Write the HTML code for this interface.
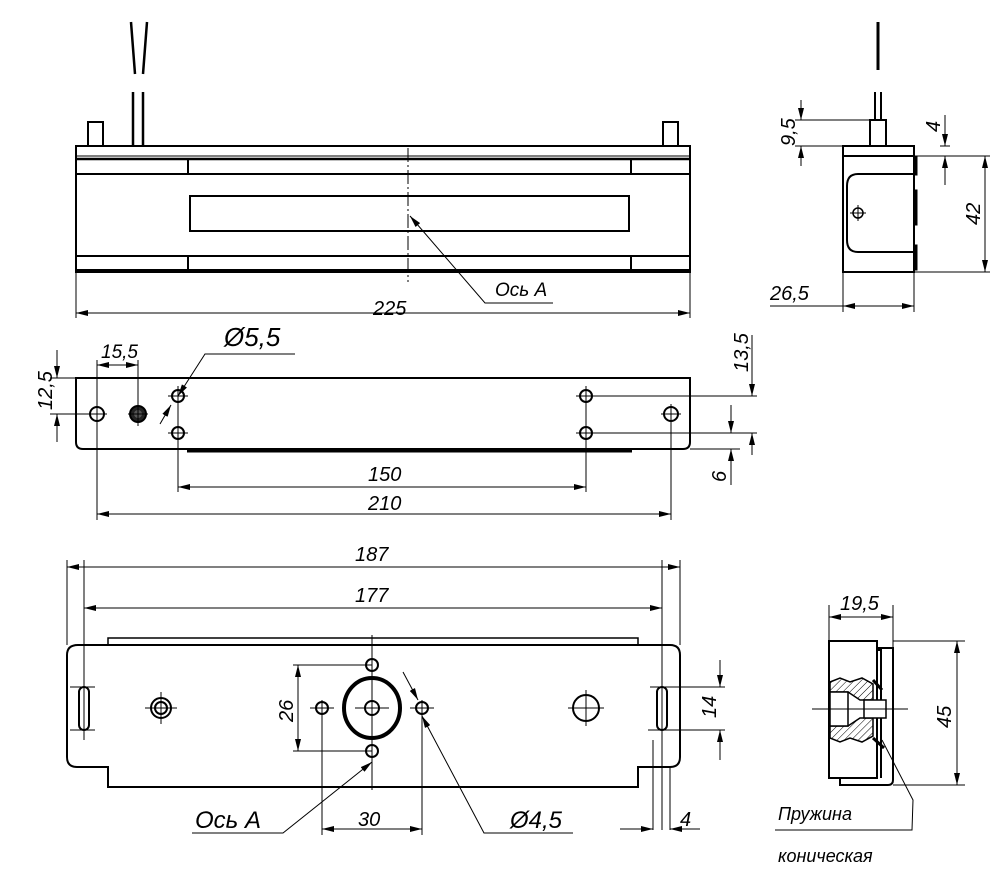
<!DOCTYPE html>
<html><head><meta charset="utf-8"><style>
body{margin:0;background:#fff}
svg{display:block}
text{font-family:"Liberation Sans",sans-serif;font-style:italic;fill:#000}
</style></head><body>
<svg width="1000" height="875" viewBox="0 0 1000 875" xmlns="http://www.w3.org/2000/svg">
<defs>
<marker id="a" viewBox="0 0 12 6" refX="12" refY="3" markerWidth="12" markerHeight="6" orient="auto-start-reverse" markerUnits="userSpaceOnUse"><path d="M0,0L12,3L0,6Z"/></marker>
<pattern id="h" width="5" height="5" patternUnits="userSpaceOnUse" patternTransform="rotate(45)"><line x1="0" y1="0" x2="0" y2="5" stroke="#000" stroke-width="1"/></pattern>
</defs>
<g fill="none" stroke="#000">
<!-- TOP VIEW -->
<g stroke-width="2">
<rect x="76" y="146" width="614" height="126"/>
<line x1="76" y1="159" x2="690" y2="159" stroke-width="2.5"/>
<line x1="76" y1="174" x2="690" y2="174"/>
<line x1="76" y1="256" x2="690" y2="256"/>
<line x1="76" y1="270" x2="690" y2="270"/>
<line x1="188" y1="159" x2="188" y2="174"/><line x1="631" y1="159" x2="631" y2="174"/>
<line x1="188" y1="256" x2="188" y2="270"/><line x1="631" y1="256" x2="631" y2="270"/>
<rect x="190" y="196" width="439" height="35"/>
<path d="M88,146V122H103V146M663,146V122H678V146"/>
<path d="M133,146V92M143,146V92M131,22L135,74M147,22L143,74" stroke-width="2.5"/>
</g>
<line x1="76" y1="156" x2="690" y2="156" stroke-width="1"/>
<line x1="408" y1="148" x2="408" y2="282" stroke-width="1" stroke-dasharray="14,3,2,3"/>
<path d="M410,216L485,303H553" stroke-width="1" marker-start="url(#a)"/>
<path d="M76,272V318M690,272V318" stroke-width="1"/>
<line x1="76" y1="313" x2="690" y2="313" stroke-width="1" marker-start="url(#a)" marker-end="url(#a)"/>

<!-- SIDE VIEW TOP RIGHT -->
<g stroke-width="2">
<rect x="843" y="146" width="71" height="126"/>
<line x1="843" y1="156" x2="914" y2="156"/>
<path d="M914,174H858Q847,174 847,186V240Q847,252 858,252H914"/>
<path d="M870,146V120H886V146"/>
<path d="M875,120V92M881,120V92"/>
</g>
<line x1="878" y1="22" x2="878" y2="70" stroke-width="3"/>
<path d="M914,157h3v18h-3M914,190h3v35h-3M914,245h3v25h-3" fill="#000" stroke-width="1"/>
<circle cx="858" cy="213" r="5" stroke-width="1.5"/>
<path d="M850,213h16M858,205v16" stroke-width="1"/>
<path d="M795,120H870M795,146H843M914,156H990M914,272H990M843,272V312M914,272V312M940,146H950" stroke-width="1"/>
<line x1="801" y1="100" x2="801" y2="120" stroke-width="1" marker-end="url(#a)"/>
<line x1="801" y1="166" x2="801" y2="146" stroke-width="1" marker-end="url(#a)"/>
<line x1="945" y1="115" x2="945" y2="146" stroke-width="1" marker-end="url(#a)"/>
<line x1="945" y1="185" x2="945" y2="156" stroke-width="1" marker-end="url(#a)"/>
<line x1="985" y1="156" x2="985" y2="272" stroke-width="1" marker-start="url(#a)" marker-end="url(#a)"/>
<line x1="770" y1="306" x2="843" y2="306" stroke-width="1"/>
<line x1="843" y1="306" x2="914" y2="306" stroke-width="1" marker-start="url(#a)" marker-end="url(#a)"/>

<!-- SECOND VIEW -->
<path d="M76,378H690V442Q690,449 683,449H83Q76,449 76,442Z" stroke-width="2"/>
<line x1="187" y1="451" x2="632" y2="451" stroke-width="3"/>
<g stroke-width="2">
<circle cx="97" cy="414" r="7"/><circle cx="671" cy="414" r="7"/>
<circle cx="178" cy="396" r="6"/><circle cx="178" cy="433" r="6"/>
<circle cx="586" cy="396" r="6"/><circle cx="586" cy="433" r="6"/>
</g>
<circle cx="138" cy="414" r="8" fill="#222" stroke-width="2"/>
<circle cx="138" cy="414" r="4" fill="#555" stroke="none"/>
<g stroke-width="1">
<path d="M87,414h20M97,404v16M128,414h20M138,402v24M661,414h20M671,404v116"/>
<path d="M168,396h20M168,433h20M178,386V492M576,396H757M586,386V492M576,433H757"/>
<path d="M97,414V520M50,378H76M50,414H87M97,360V404M138,360V404M690,449H740"/>
<line x1="57" y1="350" x2="57" y2="378" marker-end="url(#a)"/>
<line x1="57" y1="442" x2="57" y2="414" marker-end="url(#a)"/>
<line x1="97" y1="365" x2="138" y2="365" marker-start="url(#a)" marker-end="url(#a)"/>
<path d="M295,354H205L178,396" marker-end="url(#a)"/>
<line x1="160" y1="424" x2="171" y2="405" marker-end="url(#a)"/>
<line x1="752" y1="335" x2="752" y2="396" marker-end="url(#a)"/>
<line x1="752" y1="455" x2="752" y2="433" marker-end="url(#a)"/>
<line x1="731" y1="405" x2="731" y2="433" marker-end="url(#a)"/>
<line x1="731" y1="485" x2="731" y2="449" marker-end="url(#a)"/>
<line x1="178" y1="487" x2="586" y2="487" marker-start="url(#a)" marker-end="url(#a)"/>
<line x1="97" y1="514" x2="671" y2="514" marker-start="url(#a)" marker-end="url(#a)"/>
</g>

<!-- THIRD VIEW -->
<rect x="108" y="638" width="530" height="7" stroke-width="1.5"/>
<path d="M78,645H670Q680,645 680,655V757Q680,767 670,767H638V787H108V767H77Q67,767 67,757V655Q67,645 78,645Z" stroke-width="2"/>
<g stroke-width="2">
<rect x="79" y="687" width="10" height="43" rx="5"/>
<rect x="657" y="687" width="10" height="43" rx="5"/>
<circle cx="161" cy="708" r="10"/><circle cx="161" cy="708" r="6"/>
<ellipse cx="372" cy="708" rx="28" ry="30" stroke-width="4"/>
<circle cx="372" cy="708" r="7"/>
<circle cx="372" cy="665" r="6"/><circle cx="372" cy="751" r="6"/>
<circle cx="322" cy="708" r="6"/><circle cx="422" cy="708" r="6"/>
<circle cx="586" cy="708" r="13"/>
</g>
<g stroke-width="1">
<path d="M84,560V740M662,560V830M67,560V645M680,560V645M670,830V767M653,830V740"/>
<path d="M70,687h25M70,730h25M84,695v6M84,712v10M145,708h32M161,692v32"/>
<path d="M568,708h36M586,690v36M650,687H725M650,730H725M648,730h25"/>
<path d="M372,635V790M355,708h34M310,708h24M410,708h24M322,700V835M422,700V835M293,665H372M293,751H372"/>
<line x1="298" y1="665" x2="298" y2="751" marker-start="url(#a)" marker-end="url(#a)"/>
<line x1="67" y1="567" x2="680" y2="567" marker-start="url(#a)" marker-end="url(#a)"/>
<line x1="84" y1="608" x2="662" y2="608" marker-start="url(#a)" marker-end="url(#a)"/>
<line x1="322" y1="829" x2="422" y2="829" marker-start="url(#a)" marker-end="url(#a)"/>
<line x1="720" y1="660" x2="720" y2="687" marker-end="url(#a)"/>
<line x1="720" y1="760" x2="720" y2="730" marker-end="url(#a)"/>
<line x1="620" y1="829" x2="653" y2="829" marker-end="url(#a)"/>
<line x1="700" y1="829" x2="670" y2="829" marker-end="url(#a)"/>
<path d="M192,833H283L372,762" marker-end="url(#a)"/>
<path d="M573,833H484L422,716" marker-end="url(#a)"/>
<line x1="403" y1="672" x2="418" y2="700" marker-end="url(#a)"/>
</g>

<!-- SECTION VIEW -->
<g stroke-width="2">
<rect x="829" y="641" width="48" height="137"/>
<path d="M877,648H893V780Q893,785 888,785H840V778"/>
<path d="M877,650H881V778"/>
</g>
<path d="M830,682L840,678L850,682L862,678L873,684V700H860L848,692H830Z" fill="url(#h)" stroke-width="1.5"/>
<path d="M830,738L840,742L850,738L862,742L873,736V718H860L848,726H830Z" fill="url(#h)" stroke-width="1.5"/>
<rect x="830" y="692" width="18" height="34" fill="#fff" stroke-width="1.5"/>
<rect x="864" y="700" width="22" height="18" fill="#fff" stroke-width="1.5"/>
<path d="M873,680L882,690M873,738L884,748" stroke-width="3"/>
<g stroke-width="1">
<path d="M812,709H908M829,605V641M893,605V648M893,641H965M893,785H965"/>
<line x1="829" y1="617" x2="893" y2="617" marker-start="url(#a)" marker-end="url(#a)"/>
<line x1="957" y1="641" x2="957" y2="785" marker-start="url(#a)" marker-end="url(#a)"/>
<path d="M882,740L913,800L912,830H775"/>
</g>
</g>

<!-- TEXT -->
<g font-size="20">
<text x="373" y="315">225</text>
<text x="495" y="296" font-size="19">Ось А</text>
<text x="770" y="300">26,5</text>
<text transform="translate(795,146) rotate(-90)">9,5</text>
<text transform="translate(940,132) rotate(-90)">4</text>
<text transform="translate(980,225) rotate(-90)">42</text>
<text x="101" y="358" font-size="19">15,5</text>
<text x="224" y="346" font-size="26">Ø5,5</text>
<text transform="translate(52,410) rotate(-90)">12,5</text>
<text transform="translate(748,372) rotate(-90)">13,5</text>
<text transform="translate(726,482) rotate(-90)">6</text>
<text x="368" y="481">150</text>
<text x="368" y="510">210</text>
<text x="355" y="561">187</text>
<text x="355" y="602">177</text>
<text transform="translate(293,722) rotate(-90)">26</text>
<text transform="translate(716,718) rotate(-90)">14</text>
<text x="358" y="826">30</text>
<text x="680" y="826">4</text>
<text x="195" y="828" font-size="24">Ось А</text>
<text x="510" y="828" font-size="24">Ø4,5</text>
<text x="840" y="610">19,5</text>
<text transform="translate(951,728) rotate(-90)">45</text>
<text x="778" y="820" font-size="18">Пружина</text>
<text x="778" y="862" font-size="18">коническая</text>
</g>
</svg>
</body></html>
